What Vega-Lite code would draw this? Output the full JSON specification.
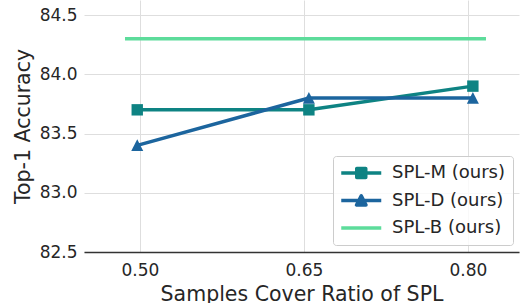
{
  "$schema": "https://vega.github.io/schema/vega-lite/v6.json",
  "width": 435,
  "height": 252,
  "autosize": {"type": "none"},
  "padding": {"left": 84, "right": 2, "top": 0, "bottom": 51},
  "background": "white",
  "config": {
    "view": {"stroke": null},
    "font": "DejaVu Sans"
  },
  "data": {
    "values": [
      {"series": "SPL-M (ours)", "x": 0.4975, "y": 83.7},
      {"series": "SPL-M (ours)", "x": 0.6545, "y": 83.7},
      {"series": "SPL-M (ours)", "x": 0.8045, "y": 83.9},
      {"series": "SPL-D (ours)", "x": 0.4975, "y": 83.4},
      {"series": "SPL-D (ours)", "x": 0.6545, "y": 83.8},
      {"series": "SPL-D (ours)", "x": 0.8045, "y": 83.8},
      {"series": "SPL-B (ours)", "x": 0.4863, "y": 84.3},
      {"series": "SPL-B (ours)", "x": 0.8165, "y": 84.3}
    ]
  },
  "encoding": {
    "x": {
      "field": "x", "type": "quantitative",
      "scale": {"domain": [0.4488, 0.8467], "nice": false, "zero": false},
      "axis": {
        "title": "Samples Cover Ratio of SPL",
        "values": [0.5, 0.65, 0.8], "format": ".2f",
        "labelFontSize": 17, "labelColor": "#262626", "labelFont": "DejaVu Sans", "labelPadding": 10,
        "titleFontSize": 20.5, "titleColor": "#262626", "titleFont": "DejaVu Sans", "titleFontWeight": "normal", "titlePadding": 6,
        "ticks": false, "domain": true, "domainColor": "#333333", "domainWidth": 1.3,
        "grid": true, "gridColor": "#dedede", "gridWidth": 1
      }
    },
    "y": {
      "field": "y", "type": "quantitative",
      "scale": {"domain": [82.5, 84.627], "nice": false, "zero": false},
      "axis": {
        "title": "Top-1 Accuracy",
        "values": [82.5, 83.0, 83.5, 84.0, 84.5], "format": ".1f",
        "labelFontSize": 17, "labelColor": "#262626", "labelFont": "DejaVu Sans", "labelPadding": 7,
        "titleFontSize": 20.5, "titleColor": "#262626", "titleFont": "DejaVu Sans", "titleFontWeight": "normal", "titlePadding": 6,
        "ticks": false, "domain": false,
        "grid": true, "gridColor": "#dedede", "gridWidth": 1
      }
    },
    "color": {
      "field": "series", "type": "nominal",
      "scale": {
        "domain": ["SPL-M (ours)", "SPL-D (ours)", "SPL-B (ours)"],
        "range": ["#0e8383", "#1c659e", "#5ddc9b"]
      },
      "legend": {
        "title": null,
        "orient": "none",
        "legendX": 249,
        "legendY": 156,
        "padding": 8,
        "fillColor": "rgba(255,255,255,0.8)",
        "strokeColor": "#cccccc",
        "cornerRadius": 3,
        "labelFontSize": 18,
        "labelFont": "DejaVu Sans",
        "labelColor": "#262626",
        "labelOffset": 33,
        "rowPadding": 9.5,
        "symbolSize": 100,
        "symbolStrokeWidth": 3,
        "encode": {
          "symbols": {
            "update": {
              "shape": {"signal": "datum.value === 'SPL-M (ours)' ? 'M-1.75,0H6.25M1.35,-0.9H3.15V0.9H1.35Z' : (datum.value === 'SPL-D (ours)' ? 'M-1.75,0H6.25M2.25,-0.95L1.3,0.9L3.2,0.9Z' : 'M-1.75,0H6.25')"},
              "fill": {"scale": "color", "field": "value"},
              "stroke": {"scale": "color", "field": "value"},
              "strokeWidth": {"value": 3.5},
              "strokeJoin": {"value": "round"},
              "opacity": {"value": 1},
              "fillOpacity": {"value": 1},
              "strokeOpacity": {"value": 1}
            }
          }
        }
      }
    }
  },
  "layer": [
    {
      "mark": {"type": "line", "strokeWidth": 3.5, "clip": true}
    },
    {
      "transform": [{"filter": "datum.series !== 'SPL-B (ours)'"}],
      "mark": {"type": "point", "filled": true, "opacity": 1, "size": 144, "clip": true},
      "encoding": {
        "shape": {
          "field": "series", "type": "nominal",
          "scale": {
            "domain": ["SPL-M (ours)", "SPL-D (ours)"],
            "range": ["M-0.95,-0.95H0.95V0.95H-0.95Z", "M0,-1L-1,0.95L1,0.95Z"]
          },
          "legend": null
        }
      }
    }
  ]
}
